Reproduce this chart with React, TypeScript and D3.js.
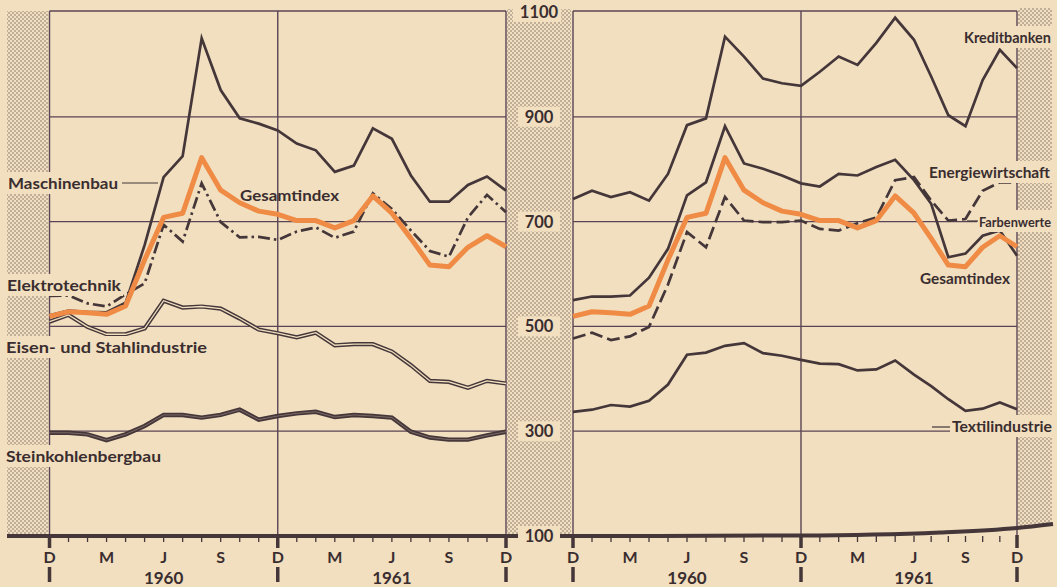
import React from "react";
import * as d3 from "d3";

// ---------- data (index values, monthly, Dec 1959 .. Dec 1961) ----------
const monthTickLabels = ["D", "M", "J", "S", "D", "M", "J", "S", "D"];
const monthTickIndex = [0, 3, 6, 9, 12, 15, 18, 21, 24];
const yearLabels = ["1960", "1961"];
const yearLabelIndex = [6, 18];
const yTickValues = [1100, 900, 700, 500, 300, 100];
const gridValues = [900, 700, 500, 300];

const gesamtindex = [519, 528, 526, 523, 539, 627, 708, 716, 822, 760, 736, 720, 714, 702, 702, 688, 702, 749, 716, 668, 617, 614, 651, 673, 652];

const maschinenbau = [521, 530, 528, 527, 545, 655, 785, 825, 1050, 951, 897, 887, 874, 849, 836, 795, 807, 878, 858, 788, 738, 738, 770, 786, 759];
const elektrotechnik = [558, 559, 544, 538, 561, 582, 694, 662, 773, 699, 670, 671, 665, 681, 689, 669, 681, 754, 724, 683, 644, 633, 708, 751, 718];
const eisenStahl = [509, 522, 499, 485, 485, 496, 549, 536, 538, 534, 515, 494, 487, 479, 488, 464, 466, 466, 452, 426, 396, 394, 383, 396, 391];
const steinkohle = [297, 297, 294, 283, 294, 310, 331, 331, 326, 331, 341, 322, 329, 334, 337, 327, 331, 329, 326, 299, 288, 284, 284, 292, 299];

const kreditbanken = [743, 759, 747, 756, 740, 791, 884, 897, 1053, 1015, 973, 964, 959, 986, 1015, 999, 1041, 1089, 1047, 977, 903, 882, 970, 1028, 993];
const energiewirtschaft = [477, 488, 474, 481, 499, 580, 680, 651, 747, 702, 699, 699, 702, 686, 683, 697, 708, 779, 785, 740, 702, 705, 759, 775, 775];
const farbenwerte = [550, 557, 557, 559, 593, 648, 750, 775, 882, 811, 801, 788, 773, 767, 791, 788, 804, 818, 779, 734, 632, 639, 673, 683, 635];
const textilindustrie = [337, 341, 350, 347, 358, 389, 446, 450, 463, 468, 449, 444, 436, 429, 428, 416, 418, 435, 408, 386, 361, 339, 343, 355, 342];

// ---------- style ----------
const PAPER = "#f1dfbf";
const INK = "#443639";
const GRID = "#5b4455";
const ORANGE = "#ef8b45";
const DOT = "#7a6660";
const TEXT = "#3a2d2f";
const FONT = "Lato, 'DejaVu Sans', sans-serif";

type Kind = "solid" | "dashdot" | "dashed" | "double" | "thick" | "orange";
type Series = { name: string; data: number[]; kind: Kind };
type Label = { text: string; x: number; w: number; cy: number; bg: boolean; size?: number; leader?: [number, number, number] };

const leftSeries: Series[] = [
  { name: "Steinkohlenbergbau", data: steinkohle, kind: "thick" },
  { name: "Eisen- und Stahlindustrie", data: eisenStahl, kind: "double" },
  { name: "Maschinenbau", data: maschinenbau, kind: "solid" },
  { name: "Elektrotechnik", data: elektrotechnik, kind: "dashdot" },
  { name: "Gesamtindex", data: gesamtindex, kind: "orange" },
];
const rightSeries: Series[] = [
  { name: "Textilindustrie", data: textilindustrie, kind: "solid" },
  { name: "Kreditbanken", data: kreditbanken, kind: "solid" },
  { name: "Farbenwerte", data: farbenwerte, kind: "solid" },
  { name: "Energiewirtschaft", data: energiewirtschaft, kind: "dashed" },
  { name: "Gesamtindex", data: gesamtindex, kind: "orange" },
];

const leftLabels: Label[] = [
  { text: "Maschinenbau", x: 8, w: 110, cy: 183, bg: true, leader: [122, 158, 183] },
  { text: "Gesamtindex", x: 240, w: 99, cy: 195, bg: false },
  { text: "Elektrotechnik", x: 7, w: 114, cy: 285, bg: true },
  { text: "Eisen- und Stahlindustrie", x: 6, w: 201, cy: 347, bg: true },
  { text: "Steinkohlenbergbau", x: 6, w: 155, cy: 456, bg: true },
];
const rightLabels: Label[] = [
  { text: "Kreditbanken", x: 964, w: 87, cy: 37, bg: true },
  { text: "Energiewirtschaft", x: 929, w: 121, cy: 172, bg: true },
  { text: "Farbenwerte", x: 979, w: 72, cy: 221, bg: true, size: 13.5, leader: [967, 978, 221] },
  { text: "Gesamtindex", x: 920, w: 90, cy: 278, bg: false },
  { text: "Textilindustrie", x: 952, w: 100, cy: 426, bg: true, leader: [932, 950, 427] },
];

function SeriesPath({ s, x, y }: { s: Series; x: (i: number) => number; y: d3.ScaleLinear<number, number> }) {
  const line = d3
    .line<number>()
    .x((_, i) => x(i))
    .y((d) => y(d));
  const d = line(s.data) || "";
  const common = { fill: "none", strokeLinejoin: "miter" as const, strokeMiterlimit: 6 };
  switch (s.kind) {
    case "orange":
      return <path d={d} {...common} stroke={ORANGE} strokeWidth={5} strokeLinejoin="round" />;
    case "dashdot":
      return <path d={d} {...common} stroke={INK} strokeWidth={2.7} strokeDasharray="12 4 2.5 4" />;
    case "dashed":
      return <path d={d} {...common} stroke={INK} strokeWidth={2.7} strokeDasharray="13 5" />;
    case "double":
      return (
        <g>
          <path d={d} {...common} stroke={INK} strokeWidth={4.2} />
          <path d={d} {...common} stroke={PAPER} strokeWidth={1.3} />
        </g>
      );
    case "thick":
      return (
        <g>
          <path d={d} {...common} stroke={INK} strokeWidth={4.4} />
          <path d={d} {...common} stroke="#8a7670" strokeWidth={0.8} />
        </g>
      );
    default:
      return <path d={d} {...common} stroke={INK} strokeWidth={2.7} />;
  }
}

function TextLabel({ l }: { l: Label }) {
  return (
    <g>
      {l.bg && <rect x={l.x - 2} y={l.cy - 11} width={l.w + 4} height={22} fill={PAPER} />}
      {l.leader && (
        <line x1={l.leader[0]} x2={l.leader[1]} y1={l.leader[2]} y2={l.leader[2]} stroke={INK} strokeWidth={1.2} />
      )}
      <text
        x={l.x}
        y={l.cy + 5.5}
        fontFamily={FONT}
        fontWeight={700}
        fontSize={l.size ?? 15.5}
        fill={TEXT}
        textLength={l.w}
        lengthAdjust="spacingAndGlyphs"
      >
        {l.text}
      </text>
    </g>
  );
}

function Panel({
  x,
  y,
  series,
  labels,
}: {
  x: d3.ScaleLinear<number, number>;
  y: d3.ScaleLinear<number, number>;
  series: Series[];
  labels: Label[];
}) {
  const x0 = x(0);
  const x1 = x(24);
  const top = y(1100) - 1;
  const bottom = y(100);
  const months = d3.range(25);
  return (
    <g>
      <line x1={x0} x2={x1} y1={top} y2={top} stroke={GRID} strokeWidth={1.4} />
      {gridValues.map((v) => (
        <line key={v} x1={x0} x2={x1} y1={y(v)} y2={y(v)} stroke={GRID} strokeWidth={1.3} />
      ))}
      {[0, 12, 24].map((m) => (
        <line key={m} x1={x(m)} x2={x(m)} y1={top} y2={bottom} stroke={GRID} strokeWidth={1.4} />
      ))}
      {series.map((s) => (
        <SeriesPath key={s.name} s={s} x={x} y={y} />
      ))}
      {months
        .filter((m) => m % 12 !== 0)
        .map((m) => (
          <line key={m} x1={x(m)} x2={x(m)} y1={bottom} y2={bottom + 6} stroke={INK} strokeWidth={1.3} />
        ))}
      {[0, 12, 24].map((m) => (
        <g key={m}>
          <line x1={x(m)} x2={x(m)} y1={bottom - 1} y2={bottom + 12} stroke={INK} strokeWidth={3.5} />
          <line x1={x(m)} x2={x(m)} y1={567} y2={582} stroke={INK} strokeWidth={3.5} />
        </g>
      ))}
      {monthTickIndex.map((m, i) => (
        <text key={i} x={x(m)} y={563} textAnchor="middle" fontFamily={FONT} fontWeight={700} fontSize={16} fill={TEXT}>
          {monthTickLabels[i]}
        </text>
      ))}
      {yearLabelIndex.map((m, i) => (
        <text key={i} x={x(m)} y={584} textAnchor="middle" fontFamily={FONT} fontWeight={700} fontSize={17} fill={TEXT}>
          {yearLabels[i]}
        </text>
      ))}
      {labels.map((l) => (
        <TextLabel key={l.text + l.x} l={l} />
      ))}
    </g>
  );
}

export default function App() {
  const W = 1057;
  const H = 587;
  const y = d3.scaleLinear().domain([100, 1100]).range([536, 12]);
  const xL = d3.scaleLinear().domain([0, 24]).range([49.5, 506]);
  const xR = d3.scaleLinear().domain([0, 12, 18, 24]).range([573, 801, 914, 1017]);

  const axisCurve =
    d3.line().curve(d3.curveMonotoneX)([
      [558, 536],
      [800, 535.5],
      [940, 532.5],
      [1017, 528],
      [1053, 524],
    ]) || "";

  return (
    <svg width={W} height={H} style={{ position: "absolute", left: 0, top: 0, display: "block" }}>
      <defs>
        <pattern id="stipple" width={4} height={4} patternUnits="userSpaceOnUse">
          <rect width={4} height={4} fill={PAPER} />
          <circle cx={1} cy={1} r={0.75} fill={DOT} />
          <circle cx={3} cy={3} r={0.75} fill={DOT} />
        </pattern>
      </defs>
      <rect width={W} height={H} fill={PAPER} />

      <rect x={7} y={11} width={41} height={523} fill="url(#stipple)" />
      <rect x={507} y={9} width={64} height={525} fill="url(#stipple)" />
      <rect x={1018} y={8} width={34} height={518} fill="url(#stipple)" />

      <Panel x={xL} y={y} series={leftSeries} labels={leftLabels} />
      <Panel x={xR} y={y} series={rightSeries} labels={rightLabels} />

      <line x1={7} x2={520} y1={536} y2={536} stroke={INK} strokeWidth={4} />
      <path d={axisCurve} fill="none" stroke={INK} strokeWidth={4} />

      {yTickValues.map((v) => (
        <g key={v}>
          <rect x={v >= 1000 ? 513 : 518} y={y(v) - 10} width={v >= 1000 ? 48 : 42} height={20} fill={PAPER} />
          <text x={539} y={y(v) + 6} textAnchor="middle" fontFamily={FONT} fontWeight={700} fontSize={16.5} fill={TEXT}>
            {v}
          </text>
        </g>
      ))}
    </svg>
  );
}
